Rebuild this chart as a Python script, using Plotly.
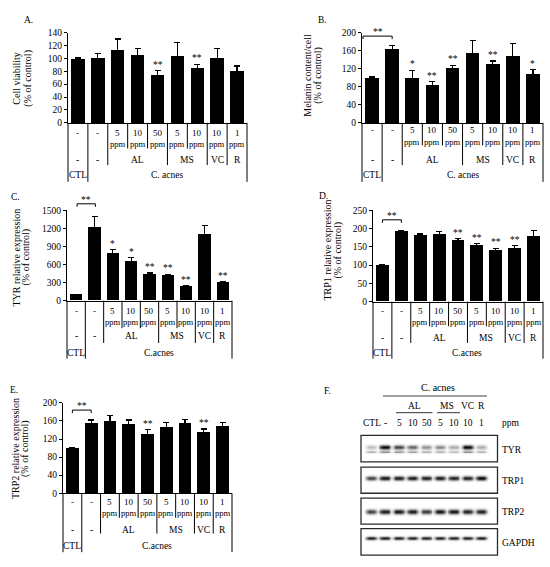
import numpy as np
import plotly.graph_objects as go

W, H = 550, 567
SERIF = "Liberation Serif"

# treatment columns under every bar chart (A-E)
doses = ["-", "-", "5", "10", "50", "5", "10", "10", "1"]
units = ["", "", "ppm", "ppm", "ppm", "ppm", "ppm", "ppm", "ppm"]
agents = ["-", "-", "AL", "MS", "VC", "R"]
agent_cols = [[0], [1], [2, 3, 4], [5, 6], [7], [8]]

# A. cell viability (% of control)
viability = [100, 102, 114, 106, 75, 105, 86, 101, 81]
viability_err = [1, 5, 16, 9, 6, 19, 5, 14, 7]
viability_sig = ["", "", "", "", "**", "", "**", "", ""]

# B. melanin content / cell (% of control)
melanin = [100, 164, 100, 84, 122, 156, 131, 150, 110]
melanin_err = [1.5, 7, 16, 7, 5, 26, 6, 25, 8]
melanin_sig = ["", "", "*", "**", "**", "", "**", "", "*"]

# C. TYR relative expression
tyr = [100, 1215, 788, 656, 438, 427, 241, 1094, 301]
tyr_err = [6, 180, 60, 55, 20, 12, 10, 150, 10]
tyr_sig = ["", "", "*", "*", "**", "**", "**", "", "**"]

# D. TRP1 relative expression
trp1 = [100, 192, 182, 184, 168, 155, 141, 147, 180]
trp1_err = [1, 3, 3, 7, 4, 4, 5, 6, 14]
trp1_sig = ["", "", "", "", "**", "**", "**", "**", ""]

# E. TRP2 relative expression
trp2 = [100, 156, 160, 153, 131, 147, 155, 135, 149]
trp2_err = [1, 6, 12, 9, 10, 9, 9, 7, 8]
trp2_sig = ["", "", "", "", "**", "", "", "**", ""]

# F. western blot, band darkness per lane (0 = empty, 1 = saturated)
blot_lanes = ["CTL", "-", "5", "10", "50", "5", "10", "10", "1"]
tyr_band = [0.25, 1.0, 0.75, 0.6, 0.42, 0.45, 0.32, 1.0, 0.32]
tyr_lower_band = [0.3, 0.42, 0.4, 0.36, 0.3, 0.3, 0.26, 0.42, 0.3]
trp1_band = [0.75, 0.95, 0.92, 0.92, 0.9, 0.92, 0.9, 0.9, 1.0]
trp2_band = [0.75, 0.92, 0.95, 0.92, 0.8, 0.95, 0.95, 0.9, 0.9]
gapdh_band = [0.9, 0.9, 0.88, 0.88, 0.88, 0.88, 0.88, 0.88, 0.9]

panels = [
    dict(tag="A.", tag_xy=(28, 15), vals=viability, err=viability_err, sig=viability_sig,
         ytitle=("Cell viability", "(% of control)"), title_x=(17, 28), title_y=75,
         ymax=140, dtick=20, left=68, right=247, top=28, zero=120,
         num_y=130, ppm_y=142, row1=146, agent_y=158, row2=163, group_y=173, bottom=180,
         group="C. acnes", bracket=None),
    dict(tag="B.", tag_xy=(322, 15), vals=melanin, err=melanin_err, sig=melanin_sig,
         ytitle=("Melanin content/cell", "(% of control)"), title_x=(308, 318), title_y=72,
         ymax=200, dtick=40, left=362, right=543, top=28, zero=120,
         num_y=127.5, ppm_y=139, row1=143, agent_y=158, row2=163, group_y=173, bottom=180,
         group="C. acnes", bracket=(192, -0.45, 1.0)),
    dict(tag="C.", tag_xy=(15, 195), vals=tyr, err=tyr_err, sig=tyr_sig,
         ytitle=("TYR relative expression", "(% of control)"), title_x=(16, 26), title_y=257,
         ymax=1500, dtick=300, left=67, right=232, top=209, zero=301,
         num_y=311, ppm_y=323, row1=329, agent_y=337, row2=344, group_y=354, bottom=360,
         group="C.acnes", bracket=(1608, 0.05, 1.05)),
    dict(tag="D.", tag_xy=(323, 194), vals=trp1, err=trp1_err, sig=trp1_sig,
         ytitle=("TRP1 relative expression", "(% of control)"), title_x=(328, 338), title_y=250,
         ymax=250, dtick=50, left=373, right=543, top=209, zero=302,
         num_y=311, ppm_y=323, row1=327, agent_y=339, row2=344, group_y=354, bottom=360,
         group="C.acnes", bracket=(224, 0.0, 1.0)),
    dict(tag="E.", tag_xy=(14, 392), vals=trp2, err=trp2_err, sig=trp2_sig,
         ytitle=("TRP2 relative expression", "(% of control)"), title_x=(15, 25), title_y=452,
         ymax=200, dtick=40, left=63, right=232, top=405, zero=497,
         num_y=506, ppm_y=517.5, row1=522, agent_y=534, row2=538, group_y=551, bottom=557,
         group="C.acnes", bracket=(184, 0.0, 1.0)),
]


def X(px):
    return px / W


def Y(py):
    return 1 - py / H


fig = go.Figure()
shapes, notes = [], []


def seg(x0, y0, x1, y1, width=1.0, color="black"):
    shapes.append(dict(type="line", xref="paper", yref="paper",
                       x0=X(x0), y0=Y(y0), x1=X(x1), y1=Y(y1),
                       line=dict(color=color, width=width)))


def label(x, y, s, size=9.5, xanchor="center", **kw):
    notes.append(dict(xref="paper", yref="paper", x=X(x), y=Y(y), text=s,
                      showarrow=False, xanchor=xanchor, yanchor="middle",
                      font=dict(family=SERIF, size=size, color="black"), **kw))


layout_axes = {}
for n, p in enumerate(panels, start=1):
    suffix = "" if n == 1 else str(n)
    xa, ya = "x" + suffix, "y" + suffix
    step = (p["right"] - p["left"]) / 9

    def col(c, p=p, step=step):
        return p["left"] + (c + 0.5) * step

    def val(v, p=p):
        return p["zero"] - v / p["ymax"] * (p["zero"] - p["top"])

    fig.add_trace(go.Bar(
        x=list(range(9)), y=p["vals"], width=0.68, xaxis=xa, yaxis=ya,
        marker=dict(color="black", line=dict(width=0)),
        error_y=dict(type="data", array=p["err"], visible=True,
                     color="black", thickness=1.2, width=3),
        showlegend=False, hoverinfo="skip",
    ))

    layout_axes["xaxis" + suffix] = dict(
        domain=[X(p["left"]), X(p["right"])], range=[-0.5, 8.5], anchor=ya,
        showline=True, linecolor="black", linewidth=1, ticks="",
        showticklabels=False, showgrid=False, zeroline=False, fixedrange=True)
    layout_axes["yaxis" + suffix] = dict(
        domain=[Y(p["zero"]), Y(p["top"])], range=[0, p["ymax"]], anchor=xa,
        tick0=0, dtick=p["dtick"], ticks="outside", ticklen=3, tickcolor="black",
        showline=True, linecolor="black", linewidth=1, showgrid=False,
        zeroline=False, tickfont=dict(family=SERIF, size=9.5, color="black"),
        fixedrange=True)

    # significance marks above error bars
    for i, s in enumerate(p["sig"]):
        if s:
            notes.append(dict(xref=xa, yref=ya, x=i, y=p["vals"][i] + p["err"][i],
                              text=s, showarrow=False, yanchor="bottom", yshift=-1,
                              font=dict(family=SERIF, size=9.5, color="black")))

    # CTL vs C. acnes bracket
    if p["bracket"]:
        b, c0, c1 = p["bracket"]
        by = val(b)
        seg(col(c0), by + 3, col(c0), by)
        seg(col(c0), by, col(c1), by)
        seg(col(c1), by, col(c1), by + 3)
        label((col(c0) + col(c1)) / 2, by - 4, "**", size=9.5)

    # treatment table under the axis
    for b in [-0.5, 0.5, 8.5]:
        seg(col(b), p["zero"], col(b), p["bottom"])
    for b in [1.5, 4.5, 6.5, 7.5]:
        seg(col(b), p["zero"], col(b), p["row2"])
    for b in [2.5, 3.5, 5.5]:
        seg(col(b), p["zero"], col(b), p["row1"])
    for i, (d, u) in enumerate(zip(doses, units)):
        label(col(i), p["num_y"], d, size=9)
        if u:
            label(col(i), p["ppm_y"], u, size=8.6)
    for a, cols in zip(agents, agent_cols):
        label(col(sum(cols) / len(cols)), p["agent_y"], a)
    label(col(0), p["group_y"], "CTL")
    label(col(4.5), p["group_y"], p["group"])

    # y title and panel tag
    label(p["title_x"][0], p["title_y"], p["ytitle"][0], size=10, textangle=-90)
    label(p["title_x"][1], p["title_y"], p["ytitle"][1], size=10, textangle=-90)
    label(p["tag_xy"][0], p["tag_xy"][1], p["tag"], size=9.5)

# ---- F. western blot ----
lane0, lane_step = 371.5, 13.75


def lane_px(i):
    return lane0 + i * lane_step


def px_lane(px):
    return (px - lane0) / lane_step


lane_x = np.linspace(px_lane(358), px_lane(500), 170)
rows = np.arange(435, 564, 1.0)
z = np.zeros((rows.size, lane_x.size))
band_rows = [(tyr_band, 450, 2.2), (tyr_lower_band, 455, 1.6),
             (trp1_band, 482, 2.2), (trp2_band, 515.5, 2.4), (gapdh_band, 543, 1.7)]
for vals, yc, thick in band_rows:
    vprof = np.exp(-((rows - yc) / thick) ** 2)
    for lane, v in enumerate(vals):
        hprof = np.exp(-((lane_x - lane) / 0.4) ** 4)
        z += v * np.outer(vprof, hprof)
z = np.clip(z, 0, 1)

fig.add_trace(go.Heatmap(
    x=lane_x, y=rows, z=z, xaxis="x6", yaxis="y6", zmin=0, zmax=1,
    colorscale=[[0, "white"], [0.5, "#808080"], [1, "#080808"]],
    showscale=False, hoverinfo="skip"))
layout_axes["xaxis6"] = dict(domain=[X(358), X(500)], range=[px_lane(358), px_lane(500)],
                             anchor="y6", visible=False, fixedrange=True)
layout_axes["yaxis6"] = dict(domain=[Y(564), Y(435)], range=[564, 435],
                             anchor="x6", visible=False, fixedrange=True)

for (y0, y1), name in zip([(438, 465), (470.5, 497), (502, 528.5), (533, 560)],
                          ["TYR", "TRP1", "TRP2", "GAPDH"]):
    shapes.append(dict(type="rect", xref="x6", yref="y6",
                       x0=px_lane(361), x1=px_lane(497.5), y0=y0, y1=y1,
                       line=dict(color="#2a2a2a", width=1.3)))
    label(500, (y0 + y1) / 2 + 1, name, size=9.5, xanchor="left")

for i, t in enumerate(blot_lanes):
    label(lane_px(i), 425, t, size=9.5)
label(511, 425, "ppm", size=9.5)
label(lane_px(3.1), 408, "AL", size=9.5)
label(lane_px(5.5), 408, "MS", size=9.5)
label(lane_px(7), 408, "VC", size=9.5)
label(lane_px(8), 408, "R", size=9.5)
seg(396, 415, 432.5, 415, color="#333")
seg(437, 415, 460, 415, color="#333")
label(438, 389, "C. acnes", size=10)
seg(383, 398, 487, 398, width=1.2, color="#444")
label(327, 393, "F.", size=9.5)

fig.update_layout(
    width=W, height=H, margin=dict(l=0, r=0, t=0, b=0),
    paper_bgcolor="white", plot_bgcolor="rgba(0,0,0,0)",
    font=dict(family=SERIF, size=9.5, color="black"),
    bargap=0, showlegend=False,
    shapes=shapes, annotations=notes, **layout_axes,
)

fig.write_html("out.html", config={"displayModeBar": False},
               post_script="document.body.style.margin='0';")
